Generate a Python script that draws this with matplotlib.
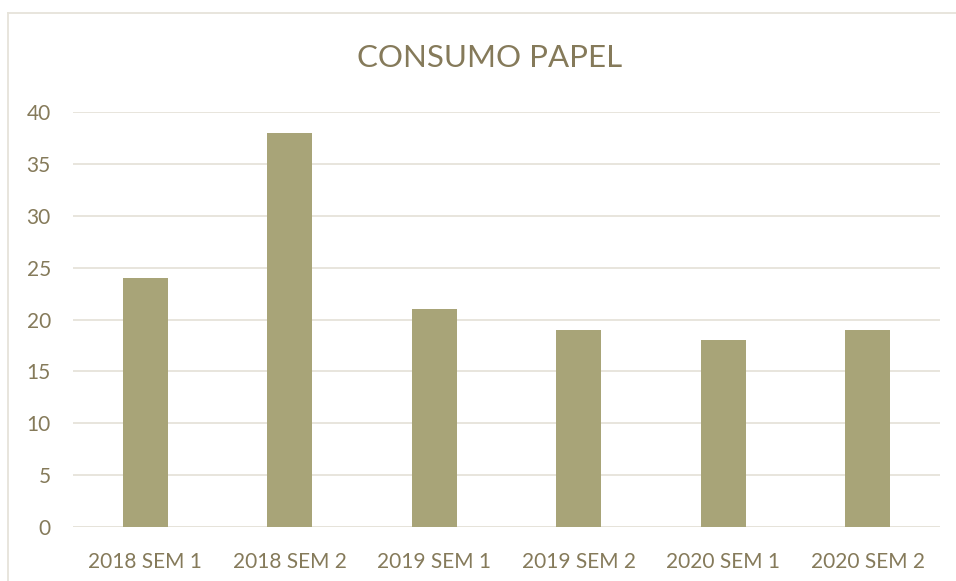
import matplotlib
matplotlib.use("Agg")
import matplotlib.pyplot as plt
from matplotlib.lines import Line2D

categories = ["2018 SEM 1", "2018 SEM 2", "2019 SEM 1", "2019 SEM 2", "2020 SEM 1", "2020 SEM 2"]
values = [24, 38, 21, 19, 18, 19]
yticks = [0, 5, 10, 15, 20, 25, 30, 35, 40]

W, H = 956, 581
fig = plt.figure(figsize=(W / 100, H / 100), dpi=100)
plt.rcParams['font.family'] = ['Lato', 'DejaVu Sans']

text_color = "#857A5A"
bar_color = "#A8A478"
grid_color = "#E6E3DA"

ax = fig.add_axes([73 / W, (H - 527) / H, (940 - 73) / W, (527 - 112) / H])
x = list(range(len(categories)))
ax.bar(x, values, width=0.31, color=bar_color, zorder=3)
ax.set_xlim(-0.5, len(categories) - 0.5)
ax.set_ylim(0, 40)
ax.set_yticks(yticks)
ax.set_xticks(x)
ax.set_xticklabels(categories)
ax.yaxis.grid(True, color=grid_color, linewidth=1.3, zorder=0)
for s in ax.spines.values():
    s.set_visible(False)
ax.tick_params(axis='both', length=0, labelsize=15, labelcolor=text_color)
ax.tick_params(axis='x', pad=18)
ax.tick_params(axis='y', pad=16)
ax.axhline(0, color=grid_color, linewidth=1.3, zorder=2)

fig.text(490 / W, 1 - 58 / H, "CONSUMO PAPEL", ha="center", va="center",
         fontsize=22.5, color=text_color)

# outer chart frame (cut off at right and bottom)
fig.add_artist(Line2D([8 / W, 1], [1 - 13 / H, 1 - 13 / H], transform=fig.transFigure,
                      color=grid_color, linewidth=1.3))
fig.add_artist(Line2D([8 / W, 8 / W], [1 - 13 / H, 0], transform=fig.transFigure,
                      color=grid_color, linewidth=1.3))

fig.savefig("out.png", dpi=100)
